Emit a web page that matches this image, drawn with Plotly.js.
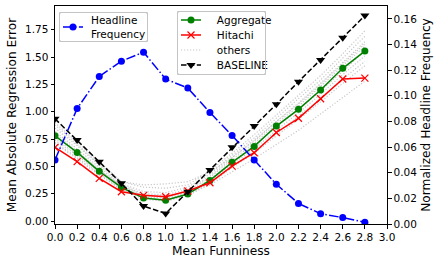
<!DOCTYPE html>
<html>
<head>
<meta charset="utf-8">
<script src="https://cdn.plot.ly/plotly-3.0.1.min.js"></script>
<style>html,body{margin:0;padding:0;background:#fff;}#chart{width:441px;height:265px;}</style>
</head>
<body>
<div id="chart"></div>
<script>
const xVals = [0.0,0.2,0.4,0.6,0.8,1.0,1.2,1.4,1.6,1.8,2.0,2.2,2.4,2.6,2.8];
const headlineFreq = [0.050,0.090,0.115,0.127,0.134,0.113,0.106,0.087,0.069,0.050,0.031,0.016,0.008,0.005,0.0013];
const aggregate = [0.78,0.628,0.455,0.308,0.21,0.19,0.247,0.372,0.537,0.683,0.869,1.022,1.199,1.397,1.555];
const hitachi = [0.674,0.543,0.39,0.268,0.235,0.222,0.275,0.35,0.503,0.625,0.81,0.94,1.119,1.299,1.308];
const baseline = [0.935,0.741,0.543,0.345,0.137,0.07,0.268,0.467,0.674,0.869,1.068,1.275,1.473,1.677,1.879];
const others1 = [0.90,0.72,0.54,0.36,0.31,0.30,0.33,0.46,0.62,0.79,0.97,1.15,1.33,1.53,1.74];
const others2 = [0.85,0.69,0.51,0.34,0.27,0.26,0.31,0.43,0.60,0.76,0.94,1.12,1.29,1.49,1.69];
const others3 = [0.82,0.66,0.49,0.33,0.25,0.24,0.29,0.41,0.58,0.73,0.91,1.08,1.26,1.45,1.64];
const others4 = [0.80,0.64,0.47,0.32,0.23,0.22,0.27,0.40,0.56,0.71,0.89,1.05,1.23,1.42,1.60];
const others5 = [0.76,0.61,0.45,0.31,0.22,0.21,0.26,0.38,0.54,0.69,0.86,1.02,1.19,1.37,1.56];
const others6 = [0.74,0.60,0.44,0.30,0.21,0.20,0.25,0.37,0.52,0.66,0.83,0.99,1.16,1.34,1.51];
const others7 = [0.72,0.58,0.43,0.29,0.21,0.19,0.24,0.35,0.50,0.64,0.80,0.96,1.12,1.30,1.46];
const others8 = [0.71,0.57,0.42,0.29,0.20,0.18,0.23,0.34,0.49,0.62,0.78,0.93,1.09,1.26,1.42];
const others9 = [0.78,0.63,0.47,0.32,0.24,0.23,0.26,0.33,0.45,0.57,0.70,0.83,0.98,1.13,1.28];
const others10 = [0.88,0.70,0.52,0.36,0.33,0.34,0.36,0.45,0.58,0.74,0.91,1.07,1.25,1.44,1.62];
const othersAll = [others1,others2,others3,others4,others5,others6,others7,others8,others9,others10];
const xTicks = [0.0,0.2,0.4,0.6,0.8,1.0,1.2,1.4,1.6,1.8,2.0,2.2,2.4,2.6,2.8,3.0];
const yTicks = [0.00,0.25,0.50,0.75,1.00,1.25,1.50,1.75];
const y2Ticks = [0.00,0.02,0.04,0.06,0.08,0.10,0.12,0.14,0.16];

const FONT = 'DejaVu Sans, sans-serif';
const traces = [];
othersAll.forEach((arr, i) => {
  traces.push({
    x: xVals, y: arr, type: 'scatter', mode: 'lines', name: 'others',
    line: {color: '#c8c8c8', width: 1.2, dash: '1.2px,1.8px'},
    showlegend: i === 0, legend: 'legend2', legendrank: 3
  });
});
traces.push({
  x: xVals, y: aggregate, type: 'scatter', mode: 'lines+markers', name: 'Aggregate',
  line: {color: '#008000', width: 1.5}, marker: {symbol: 'circle', size: 7, color: '#008000'},
  legend: 'legend2', legendrank: 1
});
traces.push({
  x: xVals, y: hitachi, type: 'scatter', mode: 'lines+markers', name: 'Hitachi',
  line: {color: '#ff0000', width: 1.5}, marker: {symbol: 'x-thin', size: 7, line: {color: '#ff0000', width: 1.2}, color: '#ff0000'},
  legend: 'legend2', legendrank: 2
});
traces.push({
  x: xVals, y: baseline, type: 'scatter', mode: 'lines+markers', name: 'BASELINE',
  line: {color: '#000000', width: 1.5, dash: '5.5px,2.4px'}, marker: {symbol: 'triangle-down', size: 8, color: '#000000'},
  legend: 'legend2', legendrank: 4
});
traces.push({
  x: xVals, y: headlineFreq, type: 'scatter', mode: 'lines+markers', name: 'Headline<br>Frequency',
  yaxis: 'y2',
  line: {color: '#0000ff', width: 1.5, dash: '9.6px,2.4px,1.5px,2.4px'}, marker: {symbol: 'circle', size: 7, color: '#0000ff'},
  legend: 'legend', showlegend: true
});

const axisCommon = {
  showline: true, linecolor: '#000', linewidth: 1, ticks: 'outside', ticklen: 3.5, tickwidth: 1,
  tickcolor: '#000', showgrid: false, zeroline: false, tickfont: {family: FONT, size: 10.5, color: '#000'}
};

// legend frames (pixel boxes converted to paper fractions of the 332x218 plot area)
const PL = 55, PT = 6, PW = 332, PH = 218;
function frame(l, t, w, h) {
  return {
    type: 'rect', xref: 'paper', yref: 'paper', layer: 'above',
    x0: (l - PL) / PW, x1: (l + w - PL) / PW,
    y0: 1 - (t + h - PT) / PH, y1: 1 - (t - PT) / PH,
    fillcolor: 'rgba(255,255,255,0.8)', line: {color: '#c4c4c4', width: 1}
  };
}

const layout = {
  width: 441, height: 265,
  margin: {l: PL, r: 54, t: PT, b: 41},
  paper_bgcolor: '#fff', plot_bgcolor: '#fff',
  font: {family: FONT, color: '#000'},
  showlegend: true,
  shapes: [frame(59.5, 12.5, 88, 29), frame(177.5, 11.5, 88, 63)],
  xaxis: Object.assign({}, axisCommon, {
    range: [0, 3.0], tickvals: xTicks, tickformat: '.1f', mirror: true,
    title: {text: 'Mean Funniness', font: {family: FONT, size: 12.2}, standoff: 4}
  }),
  yaxis: Object.assign({}, axisCommon, {
    range: [-0.027, 1.967], tickvals: yTicks, tickformat: '.2f',
    title: {text: 'Mean Absolute Regression Error', font: {family: FONT, size: 12.2}, standoff: 5}
  }),
  yaxis2: Object.assign({}, axisCommon, {
    range: [0, 0.17], tickvals: y2Ticks, tickformat: '.2f', overlaying: 'y', side: 'right',
    title: {text: 'Normalized Headline Frequency', font: {family: FONT, size: 12.2}, standoff: 5}
  }),
  legend: {
    x: 0.012, y: 0.972, xanchor: 'left', yanchor: 'top',
    bgcolor: 'rgba(0,0,0,0)', borderwidth: 0,
    font: {family: FONT, size: 10.5}, tracegroupgap: 0, visible: true
  },
  legend2: {
    x: 0.367, y: 0.972, xanchor: 'left', yanchor: 'top',
    bgcolor: 'rgba(0,0,0,0)', borderwidth: 0,
    font: {family: FONT, size: 10.5}, tracegroupgap: 0, traceorder: 'normal', visible: true
  }
};

// Tighten the legend entries to matplotlib-like spacing (keeps real legend text).
function tightenLegend(cls, opts) {
  const leg = document.querySelector('#chart g.' + cls);
  if (!leg) return;
  const left = opts.left, top = opts.top;
  const items = Array.from(leg.querySelectorAll('g.traces'));
  items.forEach((it, i) => {
    const parentCtm = it.parentNode.getCTM();
    const desiredY = top + opts.first + i * opts.pitch;
    const tr = (it.getAttribute('transform') || '');
    const m = /translate\(\s*([-\d.e]+)[\s,]*([-\d.e]+)?/.exec(tr);
    const lx = m ? parseFloat(m[1]) : 0;
    it.setAttribute('transform', 'translate(' + lx + ',' + (desiredY - parentCtm.f) + ')');
    const originX = it.getCTM().e;
    const lineStart = left + opts.symStart - originX;
    it.querySelectorAll('path.js-line').forEach(p => p.setAttribute('d', 'M' + lineStart + ',0h' + opts.symLen));
    it.querySelectorAll('path.scatterpts').forEach(p => p.setAttribute('transform', 'translate(' + (lineStart + opts.symLen / 2) + ',0)'));
    const tx = left + opts.textX - originX;
    it.querySelectorAll('text.legendtext').forEach(t => {
      t.setAttribute('x', tx);
      t.querySelectorAll('tspan').forEach(s => { if (s.hasAttribute('x')) s.setAttribute('x', tx); });
    });
  });
}

function addTopFrame(l, t, w, h) {
  const svgs = document.querySelectorAll('#chart svg.main-svg');
  const svg = svgs[svgs.length - 1];
  if (!svg) return;
  const r = document.createElementNS('http://www.w3.org/2000/svg', 'rect');
  r.setAttribute('x', l); r.setAttribute('y', t);
  r.setAttribute('width', w); r.setAttribute('height', h);
  r.setAttribute('rx', 2); r.setAttribute('ry', 2);
  r.setAttribute('fill', 'none');
  r.setAttribute('stroke', '#c4c4c4');
  r.setAttribute('stroke-width', '1');
  svg.appendChild(r);
}

Plotly.newPlot('chart', traces, layout, {displayModeBar: false, staticPlot: true}).then(() => {
  tightenLegend('legend', {left: 59, top: 12, first: 15, pitch: 15, symStart: 4, symLen: 20, textX: 32});
  tightenLegend('legend2', {left: 177, top: 11, first: 9, pitch: 15, symStart: 4, symLen: 20, textX: 32});
  addTopFrame(59.5, 12.5, 88, 29);
  addTopFrame(177.5, 11.5, 88, 63);
});
</script>
</body>
</html>
